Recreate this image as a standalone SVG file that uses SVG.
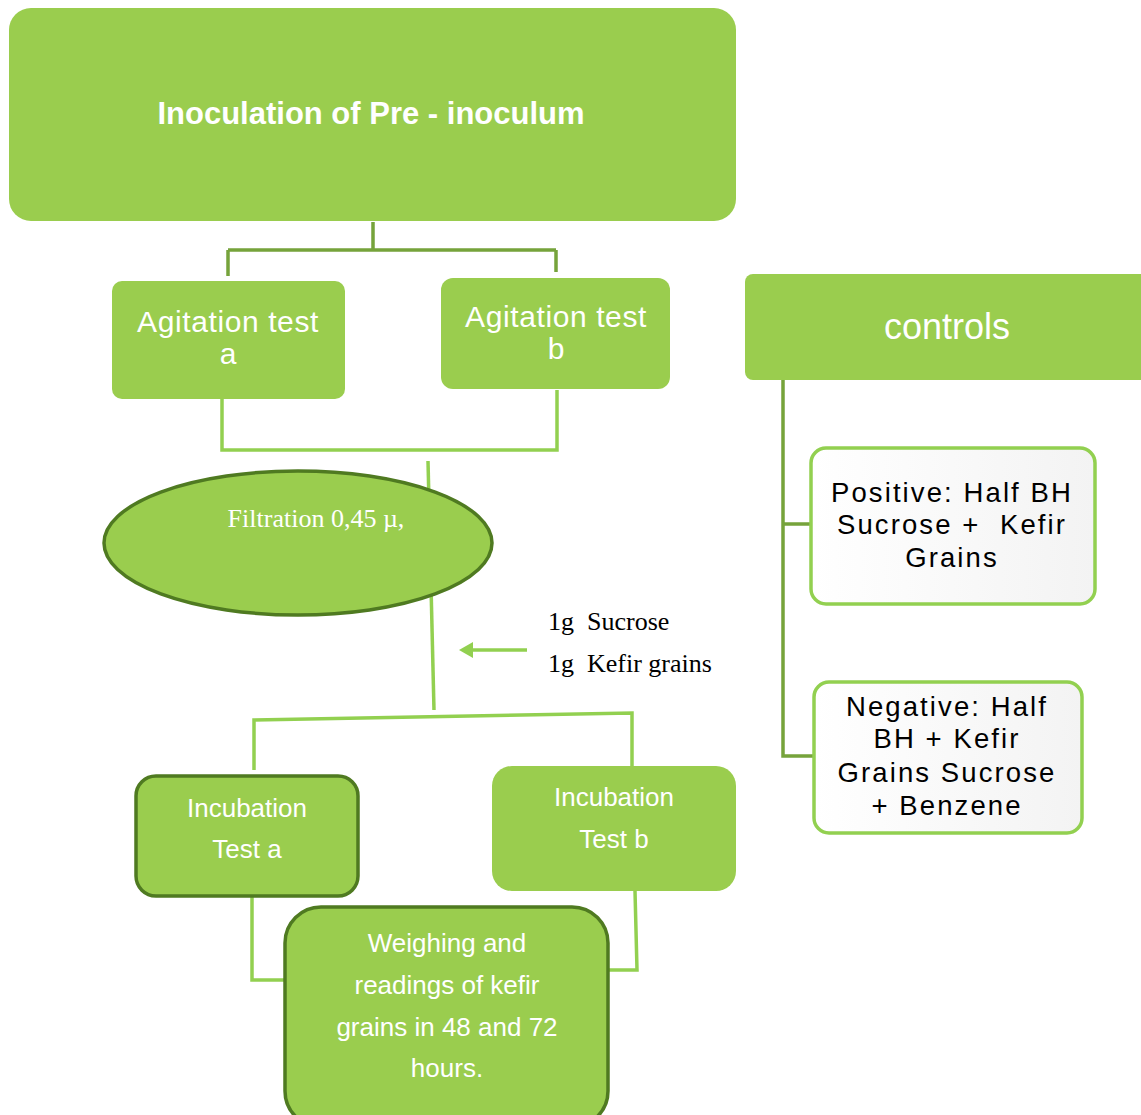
<svg xmlns="http://www.w3.org/2000/svg" width="1141" height="1115" viewBox="0 0 1141 1115">
<defs>
<style>
.box{fill:#9ACD4E}
.dark{stroke:#4F7A21;stroke-width:3.5}
.wt{fill:#fff;font-family:"Liberation Sans",Arial,sans-serif;text-anchor:middle}
.bt{fill:#000;font-family:"Liberation Sans",Arial,sans-serif;text-anchor:middle;font-size:27.5px;letter-spacing:2.1px}
.tm{font-family:"Liberation Serif","Times New Roman",serif;font-size:26px;white-space:pre}
.c1{fill:none;stroke:#76A33B;stroke-width:3.5}
.c2{fill:none;stroke:#92D050;stroke-width:3.5}
.wb{fill:url(#wg);stroke:#92D050;stroke-width:3.5}
</style>
<linearGradient id="wg" x1="0" y1="0" x2="1" y2="0">
<stop offset="0" stop-color="#ffffff"/>
<stop offset="1" stop-color="#f3f3f3"/>
</linearGradient>
<marker id="ah" markerWidth="14" markerHeight="16" refX="0" refY="8" orient="auto" markerUnits="userSpaceOnUse" viewBox="0 0 14 16">
<path d="M0,0 L14,8 L0,16 z" fill="#92D050"/>
</marker>
</defs>

<g id="connectors">
<path class="c1" d="M373,222 V250 M228,250 H556 M228,250 V276 M556,250 V272"/>
<path class="c2" d="M222,399 V450 H557 V390"/>
<path class="c2" d="M428,461 L434,710"/>
<path class="c2" d="M254,770 V720 L632,713 V766"/>
<path class="c2" d="M252,896 V980 H287"/>
<path class="c2" d="M635,891 L637,970 H607"/>
<path class="c2" d="M527,650 H473" marker-end="url(#ah)"/>
<path class="c1" d="M783,380 V756 H814 M783,524 H812"/>
</g>

<g id="node-inoculation">
<rect class="box" x="9" y="8" width="727" height="213" rx="22"/>
<text class="wt" x="371" y="124" font-size="31" font-weight="bold">Inoculation of Pre - inoculum</text>
</g>

<g id="node-agitation-a">
<rect class="box" x="112" y="281" width="233" height="118" rx="10"/>
<text class="wt" x="228" y="332" font-size="30" letter-spacing="0.6">Agitation test</text>
<text class="wt" x="228" y="364" font-size="30">a</text>
</g>

<g id="node-agitation-b">
<rect class="box" x="441" y="278" width="229" height="111" rx="12"/>
<text class="wt" x="556" y="327" font-size="30" letter-spacing="0.6">Agitation test</text>
<text class="wt" x="556" y="359" font-size="30">b</text>
</g>

<g id="node-filtration">
<ellipse class="box dark" cx="298" cy="543" rx="194" ry="72"/>
<text class="tm" x="316" y="527" fill="#fff" text-anchor="middle">Filtration 0,45 µ,</text>
</g>

<g id="label-additions">
<text class="tm" x="548" y="630" fill="#000">1g  Sucrose</text>
<text class="tm" x="548" y="672" fill="#000">1g  Kefir grains</text>
</g>

<g id="node-incubation-a">
<rect class="box dark" x="136" y="776" width="222" height="120" rx="20"/>
<text class="wt" x="247" y="817" font-size="26">Incubation</text>
<text class="wt" x="247" y="858" font-size="26">Test a</text>
</g>

<g id="node-incubation-b">
<rect class="box" x="492" y="766" width="244" height="125" rx="20"/>
<text class="wt" x="614" y="806" font-size="26">Incubation</text>
<text class="wt" x="614" y="848" font-size="26">Test b</text>
</g>

<g id="node-weighing">
<rect class="box dark" x="285" y="907" width="323" height="220" rx="36"/>
<text class="wt" x="447" y="952" font-size="26">Weighing and</text>
<text class="wt" x="447" y="994" font-size="26">readings of kefir</text>
<text class="wt" x="447" y="1036" font-size="26">grains in 48 and 72</text>
<text class="wt" x="447" y="1077" font-size="26">hours.</text>
</g>

<g id="node-controls">
<rect class="box" x="745" y="274" width="410" height="106" rx="8"/>
<text class="wt" x="947" y="339" font-size="36">controls</text>
</g>

<g id="node-positive">
<rect class="wb" x="811" y="448" width="284" height="156" rx="15"/>
<text class="bt" x="952" y="502">Positive: Half BH</text>
<text class="bt" x="952" y="534" xml:space="preserve">Sucrose +  Kefir</text>
<text class="bt" x="952" y="567">Grains</text>
</g>

<g id="node-negative">
<rect class="wb" x="814" y="682" width="268" height="151" rx="15"/>
<text class="bt" x="947" y="716">Negative: Half</text>
<text class="bt" x="947" y="748">BH + Kefir</text>
<text class="bt" x="947" y="782">Grains Sucrose</text>
<text class="bt" x="947" y="815">+ Benzene</text>
</g>
</svg>
